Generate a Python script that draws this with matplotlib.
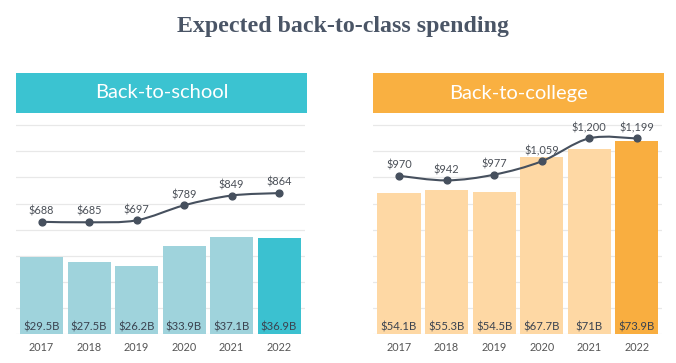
import matplotlib.pyplot as plt
from matplotlib.path import Path
from matplotlib.patches import PathPatch

# Data
years = ["2017", "2018", "2019", "2020", "2021", "2022"]
school_total = [29.5, 27.5, 26.2, 33.9, 37.1, 36.9]          # billions
school_per_person = [688, 685, 697, 789, 849, 864]           # dollars
college_total = [54.1, 55.3, 54.5, 67.7, 71.0, 73.9]         # billions
college_per_person = [970, 942, 977, 1059, 1200, 1199]       # dollars
school_total_labels = ["$29.5B", "$27.5B", "$26.2B", "$33.9B", "$37.1B", "$36.9B"]
college_total_labels = ["$54.1B", "$55.3B", "$54.5B", "$67.7B", "$71B", "$73.9B"]
school_pp_labels = ["$688", "$685", "$697", "$789", "$849", "$864"]
college_pp_labels = ["$970", "$942", "$977", "$1,059", "$1,200", "$1,199"]

W, H = 676, 363
plt.rcParams["font.family"] = ["Lato", "DejaVu Sans"]


def box(left, top, right, bottom):
    return [left / W, 1 - bottom / H, (right - left) / W, (bottom - top) / H]


def smooth_path(xs, ys):
    # Catmull-Rom style bezier through the data points
    pts = list(zip(xs, ys))
    verts = [pts[0]]
    codes = [Path.MOVETO]
    n = len(pts)
    for i in range(n - 1):
        p0 = pts[i - 1] if i > 0 else pts[i]
        p1 = pts[i]
        p2 = pts[i + 1]
        p3 = pts[i + 2] if i + 2 < n else pts[i + 1]
        c1 = (p1[0] + (p2[0] - p0[0]) / 6, p1[1] + (p2[1] - p0[1]) / 6)
        c2 = (p2[0] - (p3[0] - p1[0]) / 6, p2[1] - (p3[1] - p1[1]) / 6)
        verts += [c1, c2, p2]
        codes += [Path.CURVE4] * 3
    return Path(verts, codes)


def panel(rect, head_rect, title, head_color, light, dark,
          totals, total_labels, per_person, pp_labels, xlim):
    ymax = 84.7
    ax = fig.add_axes(rect)
    x = range(len(years))
    colors = [light] * (len(years) - 1) + [dark]
    ax.bar(x, totals, width=0.905, color=colors, zorder=2)
    for i, lab in enumerate(total_labels):
        ax.annotate(lab, (i, 0), xytext=(0, 5.3), textcoords="offset points",
                    ha="center", va="center", fontsize=8.2, color="#3b4350", zorder=3)
    ax.set_xlim(*xlim)
    ax.set_ylim(0, ymax)
    ax.set_yticks(range(0, 81, 10))
    ax.set_yticklabels([])
    ax.set_xticks(list(x))
    ax.set_xticklabels(years, fontsize=7.8, color="#555555")
    ax.tick_params(length=0, pad=6)
    ax.yaxis.grid(True, color="#e8e8e8", linewidth=0.9, zorder=0)
    ax.set_axisbelow(True)
    for s in ax.spines.values():
        s.set_visible(False)

    ax2 = ax.twinx()
    ax2.set_ylim(0, ymax * 16)
    ax2.set_xlim(*xlim)
    ax2.axis("off")
    ax2.add_patch(PathPatch(smooth_path(list(x), per_person), fill=False,
                            edgecolor="#46505e", linewidth=1.5, zorder=4))
    ax2.scatter(list(x), per_person, s=24, color="#46505e", zorder=5)
    for i, lab in enumerate(pp_labels):
        ax2.annotate(lab, (i, per_person[i]), xytext=(0, 7.8), textcoords="offset points",
                     ha="center", va="center", fontsize=7.9, color="#4a4f57", zorder=6)

    hax = fig.add_axes(head_rect)
    hax.set_facecolor(head_color)
    hax.set_xticks([])
    hax.set_yticks([])
    for s in hax.spines.values():
        s.set_visible(False)
    hax.text(0.5, 0.5, title, ha="center", va="center", color="white",
             fontsize=14.5, transform=hax.transAxes)


fig = plt.figure(figsize=(W / 100, H / 100), dpi=100)

fig.text(0.507, 0.926, "Expected back-to-class spending", ha="center", va="center",
         fontsize=17.2, fontweight="bold", color="#4a5566",
         family=["Liberation Serif", "DejaVu Serif"])

panel(box(16, 113, 305, 334), box(16, 73, 307, 113), "Back-to-school",
      "#3bc3d1", "#9fd3dc", "#3bc1d0",
      school_total, school_total_labels, school_per_person, school_pp_labels,
      (-0.537, 5.547))

panel(box(373, 113, 662, 334), box(373, 73, 664, 113), "Back-to-college",
      "#f9b041", "#fed8a4", "#f9ae40",
      college_total, college_total_labels, college_per_person, college_pp_labels,
      (-0.547, 5.53))

fig.savefig("out.png", dpi=100)
